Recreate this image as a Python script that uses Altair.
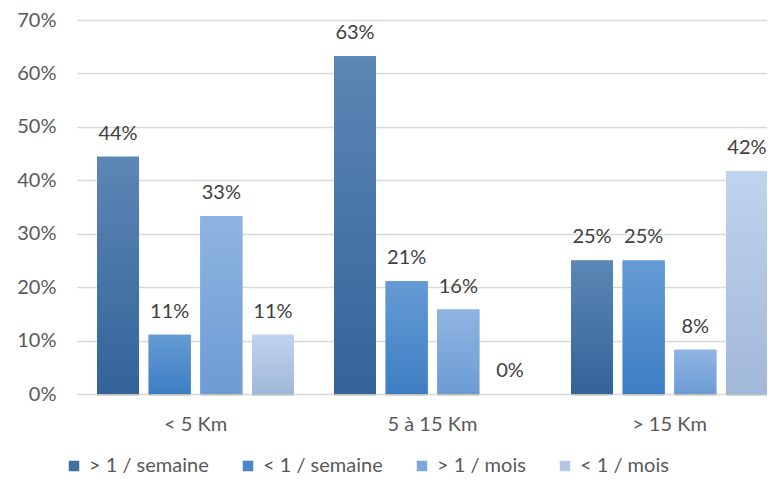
import altair as alt
import pandas as pd

categories = ["< 5 Km", "5 à 15 Km", "> 15 Km"]
series = ["> 1 / semaine", "< 1 / semaine", "> 1 / mois", "< 1 / mois"]
v_semaine_plus = [44.4, 63.2, 25.0]
v_semaine_moins = [11.1, 21.1, 25.0]
v_mois_plus = [33.3, 15.8, 8.3]
v_mois_moins = [11.1, 0.0, 41.7]
y_ticks = [0, 10, 20, 30, 40, 50, 60, 70]

legend_colors = ["#41719f", "#4a87c8", "#7ea8dc", "#b3c7e5"]
grad_top = ["#5b87b5", "#659bd4", "#8fb4e2", "#c0d3ee"]
grad_bottom = ["#336399", "#3d7ec4", "#6c9cd4", "#a2b8d9"]

rows = []
for s, vals in zip(series, [v_semaine_plus, v_semaine_moins, v_mois_plus, v_mois_moins]):
    for c, v in zip(categories, vals):
        rows.append({"cat": c, "serie": s, "val": v / 100.0, "label": f"{round(v)}%"})
df = pd.DataFrame(rows)

FONT = "Lato"

x_enc = alt.X("cat:N", sort=categories, title=None,
              scale=alt.Scale(range=[0, 711], paddingInner=0.169, paddingOuter=0.0845),
              axis=alt.Axis(labelAngle=0, labelFontSize=20, labelColor="#595959", labelFont=FONT,
                            ticks=False, domain=False, labelPadding=20))
xo_enc = alt.XOffset("serie:N", sort=series,
                     scale=alt.Scale(domain=series, paddingInner=0.187, paddingOuter=0))
y_enc = alt.Y("val:Q", title=None,
              scale=alt.Scale(domain=[0, 0.7], nice=False),
              axis=alt.Axis(values=[t / 100 for t in y_ticks], format=".0%", labelFontSize=20,
                            labelColor="#595959", labelFont=FONT, ticks=False, domain=False,
                            labelPadding=21, gridColor="#d9d9d9", gridWidth=1.5))

base = alt.Chart(df)

shadow = base.mark_bar(color="#000000", opacity=0.12, xOffset=2, yOffset=2).encode(
    x=x_enc, xOffset=xo_enc, y=y_enc)

legend_layer = base.mark_bar().encode(
    x=x_enc, xOffset=xo_enc, y=y_enc,
    color=alt.Color("serie:N", sort=series,
                    scale=alt.Scale(domain=series, range=legend_colors),
                    legend=alt.Legend(title=None, orient="none", direction="horizontal",
                                      legendX=-13, legendY=436, symbolType="square",
                                      symbolSize=110, symbolStrokeWidth=0, labelFontSize=20,
                                      labelFont=FONT, labelColor="#595959", columnPadding=29,
                                      labelOffset=5, labelLimit=300)))

grad_layers = []
for s, top, bot in zip(series, grad_top, grad_bottom):
    g = alt.Gradient(gradient="linear", x1=0, y1=0, x2=0, y2=1,
                     stops=[alt.GradientStop(color=top, offset=0),
                            alt.GradientStop(color=bot, offset=1)])
    grad_layers.append(
        base.transform_filter(alt.datum.serie == s).mark_bar(color=g).encode(
            x=x_enc, xOffset=xo_enc, y=y_enc))

text = base.mark_text(baseline="alphabetic", dy=-17, fontSize=20, font=FONT, color="#404040").encode(
    x=x_enc, xOffset=xo_enc, y=y_enc, text="label:N")

chart = alt.layer(shadow, legend_layer, *grad_layers, text).properties(
    width=690, height=374,
    autosize=alt.AutoSizeParams(type="none"),
    padding={"left": 69, "top": 12, "right": 0, "bottom": 82},
).configure_view(stroke=None)

chart.save("out.html", embed_options={"renderer": "svg", "actions": False})
